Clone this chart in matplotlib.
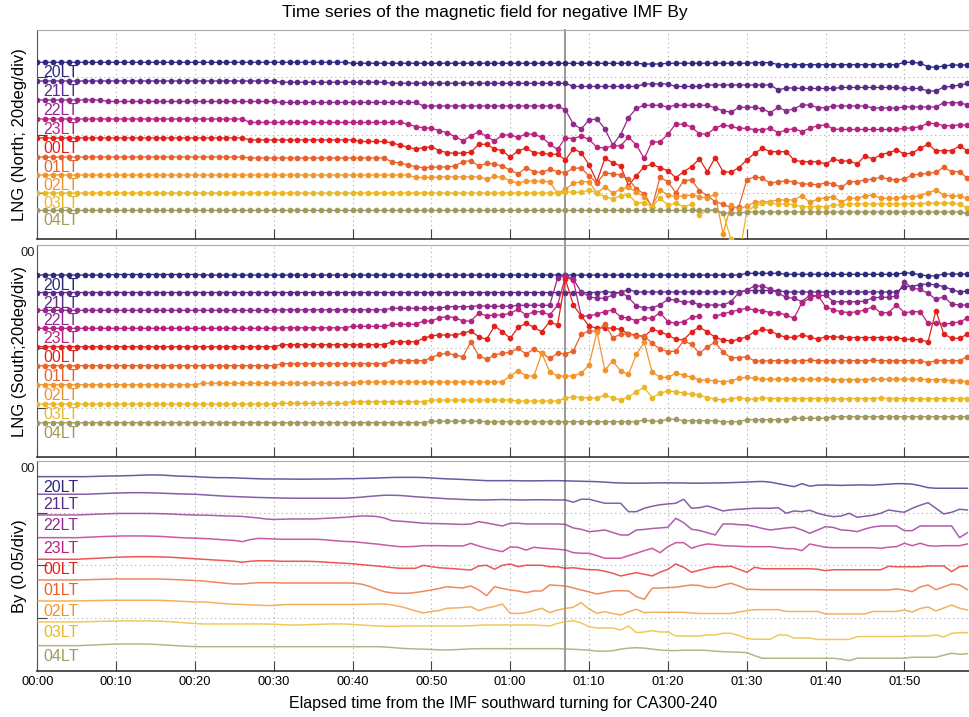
import numpy as np
import matplotlib
matplotlib.use("Agg")
import matplotlib.pyplot as plt
import matplotlib.transforms as mtransforms

plt.rcParams['font.family'] = ['Liberation Sans', 'DejaVu Sans']

# Local time of each station trace, top to bottom
lt_labels = ['20LT', '21LT', '22LT', '23LT', '00LT', '01LT', '02LT', '03LT', '04LT']
lt_colors = ['#2d2a7f', '#5b2b88', '#8e2a8c', '#b8237f', '#e3211c',
             '#e9622b', '#f1952a', '#eab726', '#9f9b5e']

# IMF southward turning (minutes after start)
turning_min = 67

# x ticks every 10 minutes
tick_minutes = [0, 10, 20, 30, 40, 50, 60, 70, 80, 90, 100, 110]
tick_labels = ['00:00', '00:10', '00:20', '00:30', '00:40', '00:50',
               '01:00', '01:10', '01:20', '01:30', '01:40', '01:50']

# Stacking level of each trace inside its panel
north_levels = [176.7, 158, 139, 120, 101, 82, 64, 46, 28.5]
south_levels = [182, 164.5, 146.7, 128.7, 110.3, 91.3, 72.3, 53, 34.3]
by_levels = [194.3, 176.7, 156, 133.3, 111.7, 91, 70, 49, 25.3]

# ---- LNG north, deviation of each trace (one value per minute) ----
n20 = [0, 0, 0, 0, 0, 0, 0, 0, 0, 0,
       0, 0, 0, 0, 0, 0, 0, 0, 0, 0,
       0, 0, 0, 0, 0, 0, 0, 0, 0, 0,
       0, 0, 0, 0, 0, 0, 0, 0, 0, 0,
       -1, -1, -1, -1, -1, -1, -1, -1, -1, -1,
       -1, -1, -1, -1, -1, -1, -1, -1, -1, -1,
       -1, -1, -1, -1, -1, -1, -1, -1, -1, -1,
       -1, -1, -1, -1, -1, -1, -1, -1.7, -1.7, -1.7,
       -1, -1, -1, -1, -1, -1, -1, -1, -1, -1,
       -1, -0.4, -0.4, -0.4, -2.4, -2.4, -2.4, -2.4, -2.4, -2.4,
       -2.4, -2.4, -2.4, -2.4, -2.4, -2.4, -2.4, -2.4, -2.4, -2.4,
       0, 0, -1, -4.4, -5, -3.7, -2.7, -2.7, -2.7]
n21 = [0, 0, 0, 0, 0, 0, 0, 0, 0, 0,
       0, 0, 0, 0, 0, 0, 0, 0, 0, 0,
       0, 0, 0, 0, 0, 0, 0, 0, 0, 0,
       0, -1.3, -1.3, -1.3, -1.3, -1.3, -1.3, -1.3, -1.3, -1.3,
       -1.3, -1.3, -1.3, -1.3, -1.3, -2.3, -2.3, -2.3, -2.3, -2.3,
       -2.3, -2.3, -2.3, -2.3, -2.3, -2.3, -2.3, -2.3, -2.3, -2.3,
       -2.3, -2.3, -2.3, -2.3, -2.3, -2.3, -2.3, -2.3, -5.5, -5.5,
       -5.5, -5.5, -5.5, -5.5, -5.5, -5.5, -5.5, -3, -3, -3,
       -3, -5.5, -5.5, -5.5, -5.5, -4, -4, -4, -4, -4,
       -4, -4, -4, -4, -9, -7, -7, -7.5, -7.5, -7.5,
       -7.5, -7.5, -6.5, -6.5, -6.5, -6.5, -6.5, -6.5, -6.5, -6.5,
       -7.5, -7.5, -7.5, -10, -10, -6, -5.5, -4, -2.5]
n22 = [0, 0, 0, 0, 0, 0, 0, 0, 0, -1.5,
       -1.5, -1.5, -1.5, -1.5, -1.5, -1.5, -1.5, -1.5, -1.5, -1.5,
       -1.5, -1.5, -1.5, -1.5, -1.5, -1.5, -1.5, -1.5, -1.5, -1.5,
       -1.5, -2.5, -2.5, -2.5, -2.5, -2.5, -2.5, -2.5, -2.5, -2.5,
       -2.5, -2.5, -2.5, -2.5, -2.5, -2.5, -2.5, -2.5, -2.5, -6,
       -6, -6, -6, -6, -6, -6, -6, -6, -6, -6,
       -6, -6, -6, -6, -6, -6, -6, -10, -24, -29,
       -20, -19, -28.7, -45, -34.7, -17.7, -8.3, -5.3, -5.3, -5.3,
       -7, -5.3, -5.3, -5.3, -5.3, -5.3, -8, -10.7, -12.3, -7.3,
       -7.3, -7.3, -9, -12.7, -7.3, -11, -8.7, -5, -5, -7.7,
       -7.7, -6, -6, -6, -6, -6, -8, -8, -8, -8,
       -7, -7, -7, -7, -7, -2.7, -2.7, -2.7, -5]
n23 = [0, 0, 0, 0, 0, 0, 0, 0, 0, 0,
       0, 0, 0, 0, 0, 0, 0, 0, 0, 0,
       0, 0, 0, 0, 0, 0, 0, -3.5, -3.5, -3.5,
       -3.5, -3.5, -3.5, -3.5, -3.5, -3.5, -3.5, -3.5, -3.5, -3.5,
       -3.5, -3.5, -3.5, -3.5, -3.5, -3.5, -3.5, -5, -7.7, -8.7,
       -9.3, -11.7, -13.7, -17.7, -21.7, -17, -12.7, -17.5, -22, -16,
       -16, -18.3, -15, -15.3, -18.3, -25, -30.5, -18.7, -19.7, -17,
       -20.5, -28.3, -29, -27, -26.7, -18.3, -26, -39.5, -22.7, -23,
       -15.3, -4.8, -5.5, -8, -15, -15, -9, -6, -7.5, -9.3,
       -9.3, -10.7, -10.7, -9.5, -13.7, -11, -9.7, -12.7, -9.3, -6.7,
       -6, -10, -10.5, -10.5, -10.5, -10.5, -10.5, -10.5, -10.5, -10.5,
       -9.3, -9, -7.7, -4.3, -4.7, -6.7, -6.7, -6, -6]
n00 = [0, 0, 0, 0, 0, 0, 0, 0, 0, 0,
       0, 0, 0, 0, 0, 0, 0, 0, 0, 0,
       0, 0, 0, 0, 0, 0, 0, -2, -2, -2,
       -2, -2, -2, -2, -2, -2, -2, -2, -2, -2,
       -2, -3.5, -3.5, -3.5, -3.5, -5, -7, -9.3, -11, -9.7,
       -8.7, -12.7, -14.7, -15.3, -15, -14.3, -6.3, -6.3, -11, -12.7,
       -19.3, -12.7, -10.3, -14.7, -15.3, -16.3, -16.3, -22, -11, -14.7,
       -27, -43.7, -20.3, -24.7, -28, -47.7, -37.7, -28.7, -26.3, -29.7,
       -32.7, -39.7, -33.7, -28.7, -21, -33.7, -19.7, -33.7, -34.3, -29.7,
       -22, -15.3, -10.3, -13.7, -13.7, -13.7, -22, -23.7, -23.7, -23.7,
       -26, -21.3, -23, -23, -26, -18, -21, -17, -14.7, -12,
       -16, -15, -10.3, -6.3, -12.7, -12.7, -12.7, -8, -12.7]
n01 = [0, 0, 0, 0, 0, 0, 0, 0, 0, 0,
       0, 0, 0, 0, 0, 0, 0, 0, 0, 0,
       0, 0, 0, 0, 0, 0, 0, -1, -1, -1,
       -1, -1, -1, -1, -1, -1, -1, -1, -1, -1,
       -1, -1, -1, -1, -1, -5, -6, -8, -9.7, -10.7,
       -10.3, -10, -10, -9, -4.7, -3.7, -9, -6.5, -7, -9.3,
       -13, -17, -10.7, -14.7, -15.5, -12.3, -14.7, -15.7, -11.3, -11,
       -19, -26, -15.7, -17, -18, -22, -32, -37, -49.7, -20.3,
       -24.7, -35.7, -23.7, -23, -33.7, -38.7, -44.7, -47, -51, -50,
       -23, -19.7, -21.3, -26.3, -24.7, -24, -24.7, -27, -27, -28,
       -25.7, -27, -30.3, -24.7, -24.7, -23, -22.3, -20.3, -22, -23,
       -22, -18, -17.3, -16.3, -15.3, -10.3, -14.7, -14.7, -21.3]
n02 = [0, 0, 0, 0, 0, 0, 0, 0, 0, 0,
       0, 0, 0, 0, 0, 0, 0, 0, 0, 0,
       0, 0, 0, 0, 0, 0, 0, 0, 0, 0,
       0, 0, 0, 0, 0, 0, 0, 0, 0, 0,
       0, 0, 0, 0, 0, 0, 0, 0, -2.5, -2.5,
       -2.5, -2, -2, -2, -2, -2, -2, -4, -1.5, -2.5,
       -5.7, -8.3, -5.7, -6.3, -6.3, -6.7, -18.3, -14.3, -8.3, -6.7,
       -6.7, -18.3, -11.7, -18.3, -14.3, -12.3, -17.3, -21.7, -31.7, -15,
       -20, -21.7, -20.7, -20, -21.7, -23.3, -19, -59, -30, -34.3,
       -31, -27.3, -26.7, -26.7, -25, -25, -25, -20.7, -27.3, -24.3,
       -22.7, -21.7, -27.3, -23.3, -23.3, -21, -20, -23.3, -23.3, -23.3,
       -21.7, -21.7, -21, -17.7, -15, -20, -21, -21, -23.3]
n03 = [0, 0, 0, 0, 0, 0, 0, 0, 0, 0,
       0, 0, 0, 0, 0, 0, 0, 0, 0, 0,
       0, 0, 0, 0, 0, 0, 0, 0, 0, 0,
       0, 0, 0, 0, 0, 0, 0, 0, 0, 0,
       0, 0, 0, 0, 0, 0, 0, 0, 0, 0,
       0, 0, 0, 0, 0, 0, 0, 0, 0, 0,
       0, 0, 0, 0, 0, 0, 0, 1, 1, 0.5,
       3, 0, -3.7, -6, -2.7, -2, -9.7, -9.7, -13.7, -5.3,
       -12, -10.3, -13.7, -11.3, -22, -17, -17, -19.7, -46.3, -65,
       -19, -13, -10.3, -10.3, -11, -11, -11.7, -13.7, -13.7, -13.7,
       -13.7, -12, -12, -11.3, -11, -11, -11, -11, -11, -11,
       -11, -10.7, -10.7, -10.3, -10.3, -10.3, -10.3, -11, -15.3]
n04 = [0, 0, 0, 0, 0, 0, 0, 0, 0, 0,
       0, 0, 0, 0, 0, 0, 0, 0, 0, 0,
       0, 0, 0, 0, 0, 0, 0, 0, 0, 0,
       0, 0, 0, 0, 0, 0, 0, 0, 0, 0,
       0, 0, 0, 0, 0, 0, 0, 0, 0, 0,
       0, 0, 0, 0, 0, 0, 0, 0, 0, 0,
       0, 0, 0, 0, 0, 0, 0, 0, 0, 0,
       0, 0, 0, 0, 0, 0, 0, 0, 0, 0,
       0, 0, 0, 0, 0, 0, 0, -2.5, -2.5, -2.5,
       -1.5, -1.5, -1.5, -1.5, -1.5, -1.5, -1.5, -1.5, -1.5, -1.5,
       -1.5, -1.5, -1.5, -1.5, -1.5, -1.5, -1.5, -1.5, -1.5, -1.5,
       -1.5, -1.5, -1.5, -1.5, -1.5, -1.5, -1.5, -1.5, -3]

# ---- LNG south ----
s20 = [0, 0, 0, 0, 0, 0, 0, 0, 0, 0,
       0.5, 0.5, 0.5, 0.5, 0.5, 0.5, 0.5, 0.5, 0.5, 0.5,
       0.5, 0, 0, 0, 0, 0, 0, 0, 0, 0,
       0, 0, 0, 0, 0, 0, 0, 0, 0, 0,
       0, 0, 0, 0, 0, 0, 0, 0, 0, 0,
       0, 0, 0, 0, 0, 0, 0, 0, 0, 0,
       0, 0, 0, 0, 0, 0, 0, 0, 0, 0,
       0, 0, 0, 0, 0, 0, 0, 0, 0, 0,
       0, 0, 0, 0, 0, 0, 0, 0, 0, 0,
       1.7, 1.7, 1.7, 1.7, 1.7, 0.7, 0.7, 0.7, 0.7, 0.7,
       0.7, 0.7, 0.7, 0.7, 0.7, 0.7, 0.7, 0.7, 0.7, 0.7,
       2.3, 1.7, 0.3, -1, -0.7, 1, 1, 1, 1]
s21 = [0, 0, 0, 0, 0, 0, 0, 0, 0, 0,
       0, 0, 0, 0, 0, 0, 0, 0, 0, 0,
       0, 0, 0, 0, 0, 0, 0, 0, 0, 0,
       0, 0, 0, 0, 0, 0, 0, 0, 0, 0,
       0, 0, 0, 0, 0, 0, 0, 0, 0, 0,
       0, 0, 0, 0, 0, 0, 0, 0, 0, 0,
       0, 0, 0, 0, 0, 0, 0, 0, 0, 0,
       0, 0, 1, 0, 0, 3, 0.5, 0.5, 0.5, 0.5,
       0.5, 0.5, 0.5, 0.5, 0.5, 0.5, 0.5, 0.5, 0.5, 0.5,
       2, 2, 2, 2, 2, 0.5, 0.5, 0.5, 0.5, 0.5,
       0.5, 0.5, 0.5, 0.5, 0.5, 0.5, 0.5, 0.5, 0.5, 0.5,
       6, 6, 8, 8.5, 7.5, 6, 3, 0.5, 1.5]
s22 = [0, 0, 0, 0, 0, 0, 0, 0, 0, 0,
       0, 0, 0, 0, 0, 0, 0, 0, 0, 0,
       0, 0, 0, 0, 0, 0, 0, 0, 0, 0,
       0, 0.5, 0.5, 0.5, 0.5, 0.5, 0.5, 0.5, 0.5, 0.5,
       0.5, 0.5, 0.5, 0.5, 0.5, 2, 2, 2, 2, 2,
       2, 2, 3.6, 3.6, 3.6, 3.6, 4.6, 4, 4, 4,
       4, 5, 5, 5, 5, 5, 32, 35.3, 31, 18.6,
       13.6, 12, 12, 15.3, 18.6, 13, 4.3, 2.6, 2.6, 5.3,
       11, 10.3, 8, 8.6, 5.3, 5.3, 5.3, 5.3, 8.6, 17.6,
       20.3, 24.3, 24.3, 21, 17, 13, 12, 8.6, 15.3, 14.3,
       15.3, 8.6, 8.6, 8.6, 8.6, 9.3, 12.6, 13, 13, 14.3,
       28.6, 22, 21, 17, 11, 13.6, 6.3, 5.3, 5.3]
s23 = [0, 0, 0, 0, 0, 0, 0, 0, 0, 0,
       0, 0, 0, 0, 0, 0, 0, 0, 0, 0,
       0, 0, 0, 0, 0, 0, 0, 0, 0, 0,
       0, 0.5, 0.5, 0.5, 0.5, 0.5, 0.5, 0.5, 0.5, 0.5,
       2, 2, 2, 2, 2, 4, 4, 4, 4, 7.3,
       7.3, 10.6, 11.6, 10.6, 7.3, 7.3, 15, 12.6, 13.3, 13.3,
       15, 19, 13.3, 16.6, 16.6, 13.3, 23, 51.6, 48, 12.3,
       12.3, 14.3, 16.6, 18.3, 11.6, 10, 7.6, 10.5, 10, 15.6,
       6.6, 5, 6.6, 11, 12.3, np.nan, 12.3, 14.3, 16.6, 18.3,
       20, 18.3, 17.6, 15.6, 15.6, 13.3, 10, 25.6, 30, 33.3,
       21.6, 18.3, 16.6, 15.6, 16.6, 18.3, 21.6, 15.6, 15.6, 23.3,
       15.6, 16.6, 16.6, 5, 5, 4.3, 5, 6.6, 10]
s00 = [0, 0, 0, 0, 0, 0, 0, 0, 0, 0,
       0, 0, 0, 0, 0, 0, 0, 0, 0, 0,
       0, 0, 0, 0, 0, 0, 0, 0, 0, 0,
       0, 2, 2, 2, 2, 2, 2, 2, 2, 2,
       2, 2, 2, 2, 2, 5, 5, 5, 5, 8.4,
       11, 11.7, 11.7, 11.7, 13.4, 15.7, 10, 7.4, 20.7, 15,
       8.4, 19.4, 23.4, 19.4, 15, 25, 21.7, 67.4, 41.7, 30.7,
       20.7, 18.4, 19, 18.4, 17.4, 12.7, 11.7, 10, 17.4, 15,
       11.7, 7.4, 6.7, 15, 19.4, 15, 9.4, 6.7, 5.7, 7.4,
       10, 15, 17.4, 16, 11.7, 9.4, 9.4, 11.7, 10, 7.4,
       10, 10, 9.4, 9.2, 9.2, 9.2, 9.2, 9.2, 9.2, 9.2,
       7.4, 7.4, 6.7, 5, 36, 12.7, 8.4, 8.4, 12.7]
s01 = [0, 0, 0, 0, 0, 0, 0, 0, 0, 0,
       0, 0, 0, 0, 0, 0, 0, 0, 0, 0,
       0, 0, 0, 0, 0, 0, 0, 0, 0, 0,
       0, 2, 2, 2, 2, 2, 2, 2, 2, 2,
       2, 2, 2, 2, 2, 5, 5, 5, 5, 5,
       8, 11.4, 12.4, 10.7, 9, 24, 10, 6.4, 10.7, 12.4,
       13.4, 17.4, 11.7, 16.7, 12.4, 7.4, 12.4, 12, 14.7, 31.4,
       34.7, 34.7, 41.7, 28, 31.4, 32, 29.7, 29.7, 22.4, 16.7,
       14, 14.7, 24.7, 21.4, 12.4, 19, 23.4, 13.4, 8, 8,
       9, 4.7, 4.7, 5, 5, 5, 4.5, 5, 5.5, 5,
       5, 5, 4.5, 5, 5, 5, 5.5, 5, 5, 5,
       5, 5, 5, 3, 5, 5, 5, 5, 9]
s02 = [0, 0, 0, 0, 0, 0, 0, 0, 0, 0,
       0, 0, 0, 0, 0, 0, 0, 0, 0, 0,
       0, 1.5, 1.5, 1.5, 1.5, 1.5, 1.5, 1.5, 1.5, 1.5,
       1.5, 1.5, 1.5, 1.5, 1.5, 1.5, 1.5, 1.5, 1.5, 1.5,
       1.5, 2.5, 2.5, 2.5, 2.5, 2.5, 2.5, 2.5, 2.5, 2.5,
       2.5, 2.5, 2.5, 2.5, 2.5, 2.5, 2.5, 2.5, 2.5, 3,
       8.7, 14, 8.7, 8.7, 31.4, 13, 8.7, 8.7, 8.7, 11.4,
       19.7, 53, 14.7, 23.7, 13.7, 10.4, 30.4, 42.4, 13, 7.4,
       7.4, 11.4, 9.7, 7.4, 4.7, 4.7, 3.7, 3, 3.7, 6.4,
       7.4, 6.4, 5.7, 5.5, 5.5, 5.5, 5.5, 5.5, 5.5, 5.5,
       5.5, 5, 5, 5, 5, 5, 5.5, 5.5, 5.5, 5.5,
       5.5, 5.5, 5.5, 5, 5, 5, 4, 4, 3]
s03 = [0, 0, 0, 0, 0, 0, 0, 0, 0, 0,
       0, 0, 0, 0, 0, 0, 0, 0, 0, 0,
       0, 0, 0, 0, 0, 0, 0, 0, 0, 0,
       0, 0.7, 0.7, 0.7, 0.7, 0.7, 0.7, 0.7, 0.7, 0.7,
       2.3, 2.3, 2.3, 2.3, 2.3, 2.3, 2.3, 2.3, 2.3, 2.3,
       4, 4, 4, 4, 4, 4, 4, 4, 4, 4,
       4, 3, 3, 3, 3, 3, 3, 5.7, 7.3, 6.3,
       6.3, 5.7, 9, 6.3, 4, 7.3, 12.3, 16.7, 6.3, 10.7,
       13, 12.3, 11, 9.7, 9, 6.3, 5, 4, 5, 6.3,
       5, 5, 6.3, 5.5, 5.5, 5.5, 5.5, 5.5, 5.5, 5.5,
       5.5, 5.5, 5, 5.5, 5.5, 5.5, 5.5, 6, 5.5, 5.5,
       5.5, 5.5, 5.5, 5, 5.5, 5.5, 5.5, 5.5, 5.5]
s04 = [0, 0, 0, 0, 0, 0, 0, 0, 0, 0,
       0, 0, 0, 0, 0, 0, 0, 0, 0, 0,
       0, 0, 0, 0, 0, 0, 0, 0, 0, 0,
       0, 0, 0, 0, 0, 0, 0, 0, 0, 0,
       0, 0, 0, 0, 0, 0, 0, 0, 0, 0,
       1.5, 1.5, 1.5, 1.5, 1.5, 1.5, 1.5, 1, 1, 1,
       1, 1, 1, 1, 1, 1, 1, 1, 1, 1,
       1, 1, 1, 1, 1, 1, 1, 2.7, 1.5, 1.5,
       3.4, 3.4, 2, 2, 2, 2, 2, 1, 1, 1,
       3, 3, 3, 3, 3, 3, 4.5, 4.5, 4.5, 4.5,
       4.5, 6, 6, 6, 6, 6, 6, 6, 6, 6,
       6, 6, 6, 6, 6, 6, 6, 6, 6]

# ---- By ----
b20 = [0, 0, 0, 0, 0, 0, 0, 0.2, 0.4, 0.6,
       0.7, 0.9, 1.1, 1.4, 1.7, 1.7, 1.5, 1.0, 0.5, 0.3,
       0, -0.4, -0.8, -1, -1, -1.2, -1.5, -1.8, -2.1, -2.3,
       -2.3, -2.3, -2.4, -2.5, -2.5, -2.4, -2.4, -2.3, -2.2, -2,
       -2, -1.8, -1.6, -1.4, -1.1, -0.8, -0.7, -0.7, -0.7, -0.9,
       -1.3, -1.8, -2.2, -2.5, -2.8, -3.2, -3.6, -4, -4, -4,
       -4, -4.1, -4.2, -4.2, -4.1, -4, -4, -4.2, -4.4, -4.6,
       -4.8, -5, -5.5, -6, -6.3, -6.5, -6.5, -6.5, -6.3, -6.2,
       -6.2, -6.3, -6.3, -6.5, -6.5, -6.4, -6.3, -6.2, -6, -5.7,
       -5.4, -5, -4.8, -5.5, -7, -8.5, -10, -7, -9.5, -8.5,
       -8.3, -8.5, -8.7, -8.5, -8.3, -8.3, -8.5, -8, -7.5, -7,
       -7, -7.5, -9, -11, -11.6, -11.6, -11.6, -11.6, -11.6]
b21 = [0, 0, 0, 0, 0, 0, 0, 0.3, 0.6, 0.9,
       1.2, 1.4, 1.6, 1.6, 1.5, 1.3, 1.0, 0.7, 0.4, 0.2,
       0, -0.5, -1, -1.5, -2, -2.3, -2.6, -2.9, -3.2, -3.4,
       -3.6, -3.8, -3.9, -4, -4, -4, -4, -4, -4, -4,
       -3.5, -3, -2.2, -1.6, -1, -1, -1.2, -1.8, -2.5, -3,
       -3.5, -4, -4.5, -4.8, -5.2, -5.5, -5.7, -5.7, -5.5, -5.3,
       -5.5, -5.7, -5.7, -5.5, -5.5, -5.6, -5.7, -5.7, -8, -5,
       -5, -7, -9, -9, -9, -17.4, -17.4, -14, -12, -10.5,
       -9.7, -9, -5, -14, -13.4, -11.7, -14, -16.7, -15.5, -15,
       -14.5, -14, -14, -14, -13.4, -19, -16.7, -17.4, -16, -19,
       -21, -22.4, -21.7, -19, -23, -22, -21, -19, -15.7, -17,
       -18, -14, -11, -8.4, -14, -19.7, -18, -15, -15.7]
b22 = [0, 0, 0, 0, 0, 0, 0.3, 0.6, 0.9, 1.2,
       1.5, 1.5, 1.5, 1.5, 1.5, 1.4, 1.2, 0.9, 0.5, 0.2,
       0, -0.2, -0.4, -0.7, -1, -1.2, -1.5, -2.2, -3, -4,
       -4.5, -4.3, -4, -4, -4, -4, -3.6, -3.2, -2.8, -2.4,
       -1.8, -1, -1, -1.5, -3, -5.7, -6.2, -6.8, -7.5, -8.3,
       -8.5, -8.7, -8.9, -9.2, -9.5, -9, -6.7, -8, -9.5, -11,
       -8.3, -8.3, -9, -9, -9, -9, -9, -9.5, -13, -14.3,
       -16.7, -16, -15, -17.5, -20, -20, -15, -14.5, -13.5, -13,
       -12.3, -3.3, -7.7, -14.3, -15.5, -17.7, -20, -9, -9, -9.7,
       -10, -11.5, -13.5, -15, -14, -13, -12.3, -15, -18.3, -15,
       -11.7, -12.5, -15, -15.5, -16.7, -14, -12, -11, -11, -11,
       -15.7, -15.7, -11, -11, -11, -11, -11, -22.7, -17.7]
b23 = [0, 0, 0, 0, 0, 0, 0.3, 0.6, 1, 1.3,
       1.5, 1.7, 1.7, 1.7, 1.6, 1.4, 1.1, 0.6, 0.1, -0.3,
       -0.5, -0.8, -1.2, -1.8, -2.3, -2.8, -4, -2, -0.7, -1,
       -1.3, -1.6, -1.6, -1.6, -1.6, -1.6, -1.8, -2.5, -3.2, -3.8,
       -4, -4.8, -5.6, -6.3, -7.3, -8.2, -9, -9, -8.7, -8,
       -8, -8, -8.2, -8.2, -8.3, -5.7, -8.3, -10.5, -12.3, -14,
       -9.3, -9.6, -12.5, -9.6, -10.5, -11, -11.6, -12.3, -15, -15.6,
       -15.6, -18, -20.6, -20.6, -20.6, -18, -15.6, -13, -10.6, -15,
       -9, -5, -5, -10.6, -8, -6.3, -7, -8, -8.3, -8.6,
       -9, -9, -9, -9, -10, -11, -11, -13, -6.3, -8,
       -9.6, -10, -10, -10, -10, -10, -10, -10.6, -9.5, -9,
       -5.6, -8, -5.6, -8, -8.5, -8, -8, -8, -6.3]
b00 = [0, 0, 0, 0, 0, 0, 0.4, 0.8, 1.2, 1.6,
       2, 2.3, 2.5, 2.6, 2.6, 2.5, 2.3, 2, 1.5, 1,
       0.5, 0, -0.5, -1, -1.4, -2, -3, -2, -1.5, -1.5,
       -1.7, -2, -2, -2, -2, -2.2, -2.6, -3.1, -3.6, -4,
       -4.5, -5.3, -6, -6.7, -7.5, -8.3, -9, -9, -9, -6,
       -7.5, -8.5, -9, -9.5, -10.2, -10.7, -6.7, -6, -10, -6,
       -4.7, -7.4, -6, -6, -6, -7.5, -7.5, -9, -8.5, -9.5,
       -10.5, -10.5, -12, -14, -16.7, -15, -13.4, -15, -16.7, -13,
       -10, -4.7, -8, -13, -11, -9, -7.5, -7.5, -7, -10,
       -13, -8, -9.5, -9.5, -9.5, -9.5, -9.5, -9.5, -9.5, -10,
       -11.4, -10.5, -10.5, -10.5, -10.5, -10.5, -10.5, -10.5, -7, -7.5,
       -7.5, -7.5, -7.5, -6.7, -6.7, -6.7, -12.4, -7.4, -6.7]
b01 = [0, 0, 0, 0, 0, 0, 0.2, 0.4, 0.6, 0.8,
       1, 1, 1, 1, 1, 1, 0.8, 0.5, 0.2, -0.2,
       -0.5, -1, -1.8, -2.6, -3.4, -4, -4, -3.3, -2.7, -2.7,
       -2.8, -3, -3, -3, -3, -3, -3, -3, -3, -3,
       -3.2, -4, -6, -9, -11.7, -13, -13.3, -13.3, -12.5, -11.3,
       -10, -8.5, -6.7, -7.5, -8, -6, -10, -15.7, -6.7, -8.5,
       -10, -11, -12.7, -11, -11, -5, -5.5, -6, -8, -10,
       -12, -14, -12.5, -11, -10.7, -11, -16.7, -19.3, -8.3, -8,
       -7.7, -7.3, -6, -5, -5.5, -7.5, -7.5, -5, -3.3, -6,
       -9.3, -9.5, -9.7, -9.7, -9.7, -9.7, -9.7, -9.7, -9.7, -9.7,
       -10, -10, -10, -10, -10, -10, -10, -10, -10, -9,
       -10, -11.7, -7, -5, -9.7, -7, -4, -5, -9.7]
b02 = [0, 0, 0, 0, 0, 0, 0.2, 0.4, 0.5, 0.6,
       0.7, 0.7, 0.7, 0.7, 0.7, 0.7, 0.5, 0.2, -0.2, -0.6,
       -1, -1, -1.5, -2.2, -2.8, -3.3, -3.5, -3.8, -4.2, -4.5,
       -4.5, -3.8, -3.5, -3.5, -3.5, -3.5, -3.5, -3.5, -3.5, -3.5,
       -3.5, -3.4, -3.2, -3.1, -3, -4, -5.5, -7.5, -10, -12,
       -10.5, -9.5, -7.3, -7, -6.5, -5.7, -9.7, -7, -5.5, -3,
       -12.3, -12.5, -11.7, -9.5, -7.3, -11.7, -9, -7.5, -6.3, -1.7,
       -8, -12.3, -10.7, -12.5, -14, -11, -8.3, -11.7, -11.3, -11.3,
       -11.3, -11.3, -11.3, -12, -12.5, -12.5, -12.5, -12.5, -12.5, -11,
       -9.7, -8.7, -8.7, -8.7, -8.7, -10.5, -10.5, -10.5, -10.5, -10.5,
       -13, -13, -13, -13, -13, -13, -10.5, -10.5, -10.5, -10.5,
       -9, -11, -7.5, -6, -10, -7, -4, -7.3, -9]
b03 = [0, 0, 0, 0, 0, 0, 0.2, 0.4, 0.6, 0.8,
       1, 1, 1, 1, 1, 0.9, 0.6, 0.2, -0.4, -1,
       -1.5, -2, -2, -2, -2, -2, -2, -2, -2, -2,
       -2.3, -2.7, -3, -3, -2.8, -2.5, -2.3, -2, -2, -2,
       -2.5, -3, -3.5, -4, -4.2, -4.3, -4.2, -4, -4, -4,
       -4, -4, -4, -4, -4, -3.8, -3.3, -3, -3, -3,
       -3, -3, -3, -3, -3.5, -4, -1.3, 0.3, 1.3, -1,
       -4.7, -6, -6, -6, -8, -4, -10.7, -10, -8.7, -10,
       -10, -14, -14, -14, -14, -13, -13, -11.3, -11.3, -13.5,
       -16.3, -17.3, -17.3, -17.3, -13, -13, -16, -16, -16, -17.5,
       -17.5, -17.5, -17.5, -17.5, -14.7, -14.5, -14.5, -14.5, -14.5, -14.5,
       -14.5, -14, -14, -14, -13, -15, -11.3, -10.7, -10.7]
b04 = [0, 0, 0, 0, 0, 0, 0.3, 0.6, 1, 1.3,
       1.6, 1.7, 1.7, 1.7, 1.6, 1.3, 0.8, 0.3, -0.2, -0.6,
       -0.9, -1, -1, -1, -1, -1, -1, -1, -1, -1,
       -1, -1, -1, -1, -1, -1, -1, -1, -1, -1,
       -1, -1, -1, -1, -1.3, -1.8, -2.5, -3, -3.3, -3.5,
       -3.8, -4.2, -4.3, -4, -3.6, -3.2, -3, -3, -3, -3,
       -3, -3, -3, -3, -3, -3, -3, -3.3, -3.6, -4,
       -4.5, -5.5, -5.5, -5, -3.5, -2.5, -2, -2.5, -3.5, -4.3,
       -4.8, -5, -4.5, -4.5, -4.5, -4.8, -5.5, -6, -6.3, -6.5,
       -7, -10, -12.6, -12.6, -12.6, -12.6, -12.6, -12.6, -12.6, -12.6,
       -12.6, -12.6, -13.5, -15, -12.5, -12.5, -12.5, -12.5, -12.5, -12.5,
       -12.5, -11.6, -11.6, -11.6, -11.6, -9.5, -7.6, -8.6, -8]

north = [n20, n21, n22, n23, n00, n01, n02, n03, n04]
south = [s20, s21, s22, s23, s00, s01, s02, s03, s04]
by = [b20, b21, b22, b23, b00, b01, b02, b03, b04]


def setup_axes(ax, ymax, yticks, extend_line):
    ax.set_xlim(0, 118.2)
    ax.set_ylim(0, ymax)
    ax.set_xticks(tick_minutes)
    ax.set_yticks(yticks)
    ax.set_yticklabels([])
    ax.tick_params(direction='in', length=7, width=0.8, color='#444444',
                   top=False, right=False, labelsize=9.3)
    ax.grid(True, linestyle=(0, (1, 3)), color='#aaaaaa', linewidth=0.8)
    ax.spines['right'].set_visible(False)
    ax.spines['top'].set_color('#aaaaaa')
    ax.spines['left'].set_color('#555555')
    ax.spines['bottom'].set_color('#333333')
    ax.spines['bottom'].set_linewidth(1.2)
    # IMF southward turning, runs through the gap to the next panel
    ax.axvline(turning_min, ymin=-0.03 if extend_line else 0, ymax=1,
               color='#999999', lw=1.4, zorder=1, clip_on=False)


def draw_traces(ax, traces, levels, markers, alpha):
    trans = mtransforms.blended_transform_factory(ax.transAxes, ax.transData)
    for i in range(len(traces)):
        vals = np.array(traces[i], dtype=float) + levels[i]
        t = np.arange(len(vals))
        if markers:
            ax.plot(t, vals, color=lt_colors[i], lw=0.9, marker='o', ms=4.1,
                    mew=0, alpha=alpha, zorder=3)
        else:
            ax.plot(t, vals, color=lt_colors[i], lw=1.1, alpha=alpha, zorder=3)
        ax.text(0.006, levels[i] - 10.5, lt_labels[i], transform=trans,
                color=lt_colors[i], fontsize=11.5, ha='left', va='center', zorder=4)


fig = plt.figure(figsize=(9.69, 7.17), dpi=100)
ax1 = fig.add_axes([0.0385, 0.6667, 0.9615, 0.2915])
ax2 = fig.add_axes([0.0385, 0.3626, 0.9615, 0.2957])
ax3 = fig.add_axes([0.0385, 0.0642, 0.9615, 0.2929])

setup_axes(ax1, 209, [46, 104, 162], True)
setup_axes(ax2, 212, [49, 109], True)
setup_axes(ax3, 210, [53, 106, 158], False)

draw_traces(ax1, north, north_levels, True, 1.0)
draw_traces(ax2, south, south_levels, True, 1.0)
draw_traces(ax3, by, by_levels, False, 0.75)

ax1.set_xticklabels([])
ax2.set_xticklabels([])
ax3.set_xticklabels(tick_labels)

# cut off tick label at the top of the lower panels
for ax in (ax2, ax3):
    ax.text(-0.003, 1 - 8.0 / 210, '00', transform=ax.transAxes, ha='right',
            va='center', fontsize=9.3, color='#222222')

ax1.set_ylabel('LNG (North; 20deg/div)', fontsize=12)
ax2.set_ylabel('LNG (South;20deg/div)', fontsize=12)
ax3.set_ylabel('By (0.05/div)', fontsize=12)
for ax in (ax1, ax2, ax3):
    ax.yaxis.set_label_coords(-0.011, 0.5)

ax3.set_xlabel('Elapsed time from the IMF southward turning for CA300-240',
               fontsize=11.5)
ax3.xaxis.set_label_coords(0.5, -0.12)

fig.text(0.5, 0.983, 'Time series of the magnetic field for negative IMF By',
         ha='center', va='center', fontsize=12.5)

fig.savefig('out.png', dpi=100)
